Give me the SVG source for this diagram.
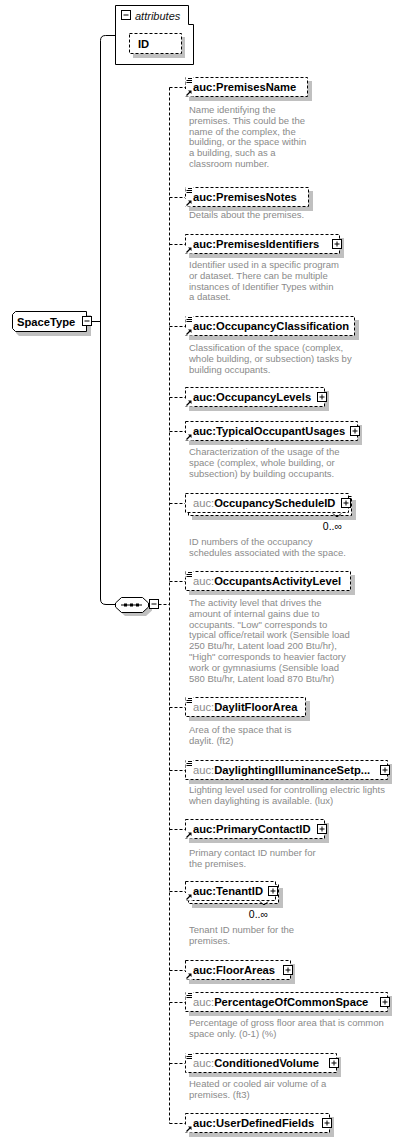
<svg xmlns="http://www.w3.org/2000/svg" xmlns:xlink="http://www.w3.org/1999/xlink" width="400" height="1143" viewBox="0 0 400 1143">
<style>
.box{fill:#fff;stroke:#000;stroke-width:1;stroke-dasharray:3 2}
.solid{fill:#fff;stroke:#000;stroke-width:1}
.shadow{fill:#c0c0c0}
.name{font-family:"Liberation Sans",Arial,sans-serif;font-weight:bold;font-size:11.2px;fill:#000}
.pre{font-weight:normal;fill:#8a8a8a}
.desc{font-family:"Liberation Sans",Arial,sans-serif;font-size:9.5px;fill:#8a8a8a}
.occ{font-family:"Liberation Sans",Arial,sans-serif;font-size:10.5px;fill:#000;text-anchor:end}
.conn{fill:none;stroke:#000;stroke-width:1}
.dconn{fill:none;stroke:#000;stroke-width:1;stroke-dasharray:3 2}
.ln{stroke:#000;stroke-width:1;fill:none}
</style>
<defs>
<g id="plus"><rect x="0" y="0" width="9" height="9" fill="#fff" stroke="#000"/><path d="M2,4.5H7M4.5,2V7" stroke="#000"/></g>
<g id="minus"><rect x="0" y="0" width="9" height="9" fill="#fff" stroke="#000"/><path d="M2,4.5H7" stroke="#000"/></g>
<g id="doc"><rect x="-0.5" y="-1" width="8" height="8" fill="#fff"/><path d="M2,1.5H6M0.5,3.5H6M0.5,5.5H6" stroke="#000"/></g>
<g id="ref"><rect x="-0.5" y="0" width="8" height="7.5" fill="#fff"/><path d="M1,6.5L4.5,3" stroke="#000" stroke-width="1.2"/><path d="M2.5,1.5H6V5Z" fill="#000"/></g>
</defs>

<g id="connectors">
<path class="conn" d="M115,35.5H105.5Q100.5,35.5 100.5,40.5V599Q100.5,604.5 106,604.5H115.5"/>
<path class="conn" d="M91.5,321.5H100.5"/>
<path class="dconn" d="M158.5,604.5H169.5"/>
<path class="dconn" d="M169.5,87.5V1123.5"/>
<path class="dconn" d="M169.5,87.5H185M169.5,197.5H185M169.5,244.5H185M169.5,326.5H185M169.5,397.5H185M169.5,431.5H185M169.5,503.5H185M169.5,581.5H185M169.5,707.5H185M169.5,770.5H185M169.5,829.5H185M169.5,891.5H185M169.5,970.5H185M169.5,1002.5H185M169.5,1063.5H185M169.5,1123.5H185"/>
</g>

<g id="attributes">
<path class="solid" d="M115.5,5.5H188.5V24.5H193.5V64.5H115.5Z"/>
<use xlink:href="#minus" x="121.5" y="10.5"/>
<text x="135" y="19.5" font-family="'Liberation Sans',Arial,sans-serif" font-size="11px" font-style="italic" fill="#111">attributes</text>
</g>

<g id="attr-ID">
<rect class="shadow" x="133" y="37" width="52" height="21"/>
<rect class="box" x="129.5" y="33.5" width="52" height="20"/>
<text class="name" x="138" y="47.5" font-size="11px">ID</text>
</g>

<g id="SpaceType">
<path class="shadow" d="M19,315H91V336H19L16,333V318Z"/>
<path class="solid" d="M15.5,311.5H86.5V331.5H15.5L12.5,328.5V314.5Z"/>
<text class="name" x="17" y="325.5" font-size="11px">SpaceType</text>
<use xlink:href="#minus" x="82.5" y="316.5"/>
</g>

<g id="sequence">
<path class="shadow" d="M125,601H146L152,606.5V610.5L146,616H125L119,610.5V606.5Z"/>
<path class="solid" d="M121.5,597.5H142.5L148.5,603V607L142.5,612.5H121.5L115.5,607V603Z"/>
<path class="ln" d="M121,605H142"/>
<rect x="124" y="603.5" width="3" height="3" fill="#000"/>
<rect x="130" y="603.5" width="3" height="3" fill="#000"/>
<rect x="136" y="603.5" width="3" height="3" fill="#000"/>
<use xlink:href="#minus" x="149.5" y="599.5"/>
</g>

<g id="PremisesName">
<rect class="shadow" x="189" y="81" width="123" height="20"/>
<rect class="box" x="185.5" y="77.5" width="122" height="19"/>
<use xlink:href="#doc" x="186" y="77"/>
<use xlink:href="#ref" x="185.5" y="89"/>
<text class="name" x="193" y="91">auc:PremisesName</text>
<text class="desc" y="113"><tspan x="189">Name identifying the</tspan><tspan x="189" dy="10.8">premises. This could be the</tspan><tspan x="189" dy="10.8">name of the complex, the</tspan><tspan x="189" dy="10.8">building, or the space within</tspan><tspan x="189" dy="10.8">a building, such as a</tspan><tspan x="189" dy="10.8">classroom number.</tspan></text>
</g>

<g id="PremisesNotes">
<rect class="shadow" x="189" y="191" width="124" height="20"/>
<rect class="box" x="185.5" y="187.5" width="123" height="19"/>
<use xlink:href="#doc" x="186" y="187"/>
<use xlink:href="#ref" x="185.5" y="199"/>
<text class="name" x="193" y="201">auc:PremisesNotes</text>
<text class="desc" x="189" y="218">Details about the premises.</text>
</g>

<g id="PremisesIdentifiers">
<rect class="shadow" x="189" y="238" width="155" height="20"/>
<rect class="box" x="185.5" y="234.5" width="154" height="19"/>
<use xlink:href="#ref" x="185.5" y="246"/>
<text class="name" x="193" y="248">auc:PremisesIdentifiers</text>
<use xlink:href="#plus" x="332.5" y="239.5"/>
<text class="desc" y="268"><tspan x="189">Identifier used in a specific program</tspan><tspan x="189" dy="10.8">or dataset. There can be multiple</tspan><tspan x="189" dy="10.8">instances of Identifier Types within</tspan><tspan x="189" dy="10.8">a dataset.</tspan></text>
</g>

<g id="OccupancyClassification">
<rect class="shadow" x="189" y="320" width="170" height="20"/>
<rect class="box" x="185.5" y="316.5" width="169" height="19"/>
<use xlink:href="#doc" x="186" y="316"/>
<use xlink:href="#ref" x="185.5" y="328"/>
<text class="name" x="193" y="330">auc:OccupancyClassification</text>
<text class="desc" y="351"><tspan x="189">Classification of the space (complex,</tspan><tspan x="189" dy="10.8">whole building, or subsection) tasks by</tspan><tspan x="189" dy="10.8">building occupants.</tspan></text>
</g>

<g id="OccupancyLevels">
<rect class="shadow" x="189" y="391" width="140" height="20"/>
<rect class="box" x="185.5" y="387.5" width="139" height="19"/>
<use xlink:href="#ref" x="185.5" y="399"/>
<text class="name" x="193" y="401">auc:OccupancyLevels</text>
<use xlink:href="#plus" x="317.5" y="392.5"/>
</g>

<g id="TypicalOccupantUsages">
<rect class="shadow" x="189" y="425" width="173" height="20"/>
<rect class="box" x="185.5" y="421.5" width="172" height="19"/>
<use xlink:href="#ref" x="185.5" y="433"/>
<text class="name" x="193" y="435">auc:TypicalOccupantUsages</text>
<use xlink:href="#plus" x="350.5" y="426.5"/>
<text class="desc" y="455"><tspan x="189">Characterization of the usage of the</tspan><tspan x="189" dy="10.8">space (complex, whole building, or</tspan><tspan x="189" dy="10.8">subsection) by building occupants.</tspan></text>
</g>

<g id="OccupancyScheduleID">
<rect class="shadow" x="192" y="500" width="164" height="20"/>
<rect class="box" x="188.5" y="496.5" width="163" height="19"/>
<rect class="box" x="185.5" y="493.5" width="163" height="19"/>
<text class="name" x="193" y="507"><tspan class="pre">auc:</tspan>OccupancyScheduleID</text>
<use xlink:href="#plus" x="341.5" y="498.5"/>
<path class="ln" d="M333,513.5l3,3h2l3,-3"/>
<text class="occ" x="342" y="530">0..∞</text>
<text class="desc" y="545"><tspan x="189">ID numbers of the occupancy</tspan><tspan x="189" dy="10.8">schedules associated with the space.</tspan></text>
</g>

<g id="OccupantsActivityLevel">
<rect class="shadow" x="189" y="575" width="166" height="20"/>
<rect class="box" x="185.5" y="571.5" width="165" height="19"/>
<use xlink:href="#doc" x="186" y="571"/>
<text class="name" x="193" y="585"><tspan class="pre">auc:</tspan>OccupantsActivityLevel</text>
<text class="desc" y="606"><tspan x="189">The activity level that drives the</tspan><tspan x="189" dy="10.8">amount of internal gains due to</tspan><tspan x="189" dy="10.8">occupants. "Low" corresponds to</tspan><tspan x="189" dy="10.8">typical office/retail work (Sensible load</tspan><tspan x="189" dy="10.8">250 Btu/hr, Latent load 200 Btu/hr),</tspan><tspan x="189" dy="10.8">"High" corresponds to heavier factory</tspan><tspan x="189" dy="10.8">work or gymnasiums (Sensible load</tspan><tspan x="189" dy="10.8">580 Btu/hr, Latent load 870 Btu/hr)</tspan></text>
</g>

<g id="DaylitFloorArea">
<rect class="shadow" x="189" y="701" width="121" height="20"/>
<rect class="box" x="185.5" y="697.5" width="120" height="19"/>
<use xlink:href="#doc" x="186" y="697"/>
<text class="name" x="193" y="711"><tspan class="pre">auc:</tspan>DaylitFloorArea</text>
<text class="desc" y="733"><tspan x="189">Area of the space that is</tspan><tspan x="189" dy="10.8">daylit. (ft2)</tspan></text>
</g>

<g id="DaylightingIlluminanceSetpoint">
<rect class="shadow" x="189" y="764" width="203" height="20"/>
<rect class="box" x="185.5" y="760.5" width="202" height="19"/>
<use xlink:href="#doc" x="186" y="760"/>
<text class="name" x="193" y="774"><tspan class="pre">auc:</tspan>DaylightingIlluminanceSetp...</text>
<use xlink:href="#plus" x="380.5" y="765.5"/>
<text class="desc" y="793"><tspan x="189">Lighting level used for controlling electric lights</tspan><tspan x="189" dy="10.8">when daylighting is available. (lux)</tspan></text>
</g>

<g id="PrimaryContactID">
<rect class="shadow" x="189" y="823" width="140" height="20"/>
<rect class="box" x="185.5" y="819.5" width="139" height="19"/>
<use xlink:href="#ref" x="185.5" y="831"/>
<text class="name" x="193" y="833">auc:PrimaryContactID</text>
<use xlink:href="#plus" x="317.5" y="824.5"/>
<text class="desc" y="856"><tspan x="189">Primary contact ID number for</tspan><tspan x="189" dy="10.8">the premises.</tspan></text>
</g>

<g id="TenantID">
<rect class="shadow" x="192" y="888" width="91" height="20"/>
<rect class="box" x="188.5" y="884.5" width="90" height="19"/>
<rect class="box" x="185.5" y="881.5" width="90" height="19"/>
<use xlink:href="#ref" x="185.5" y="893"/>
<text class="name" x="193" y="895">auc:TenantID</text>
<use xlink:href="#plus" x="268.5" y="886.5"/>
<path class="ln" d="M260,901.5l3,3h2l3,-3"/>
<text class="occ" x="268" y="918">0..∞</text>
<text class="desc" y="933"><tspan x="189">Tenant ID number for the</tspan><tspan x="189" dy="10.8">premises.</tspan></text>
</g>

<g id="FloorAreas">
<rect class="shadow" x="189" y="964" width="106" height="20"/>
<rect class="box" x="185.5" y="960.5" width="105" height="19"/>
<use xlink:href="#ref" x="185.5" y="972"/>
<text class="name" x="193" y="974">auc:FloorAreas</text>
<use xlink:href="#plus" x="283.5" y="965.5"/>
</g>

<g id="PercentageOfCommonSpace">
<rect class="shadow" x="189" y="996" width="203" height="20"/>
<rect class="box" x="185.5" y="992.5" width="202" height="19"/>
<use xlink:href="#doc" x="186" y="992"/>
<text class="name" x="193" y="1006"><tspan class="pre">auc:</tspan>PercentageOfCommonSpace</text>
<use xlink:href="#plus" x="380.5" y="997.5"/>
<text class="desc" y="1026"><tspan x="189">Percentage of gross floor area that is common</tspan><tspan x="189" dy="10.8">space only. (0-1) (%)</tspan></text>
</g>

<g id="ConditionedVolume">
<rect class="shadow" x="189" y="1057" width="152" height="20"/>
<rect class="box" x="185.5" y="1053.5" width="151" height="19"/>
<use xlink:href="#doc" x="186" y="1053"/>
<text class="name" x="193" y="1067"><tspan class="pre">auc:</tspan>ConditionedVolume</text>
<use xlink:href="#plus" x="329.5" y="1058.5"/>
<text class="desc" y="1087"><tspan x="189">Heated or cooled air volume of a</tspan><tspan x="189" dy="10.8">premises. (ft3)</tspan></text>
</g>

<g id="UserDefinedFields">
<rect class="shadow" x="189" y="1117" width="145" height="20"/>
<rect class="box" x="185.5" y="1113.5" width="144" height="19"/>
<use xlink:href="#ref" x="185.5" y="1125"/>
<text class="name" x="193" y="1127">auc:UserDefinedFields</text>
<use xlink:href="#plus" x="322.5" y="1118.5"/>
</g>
</svg>
